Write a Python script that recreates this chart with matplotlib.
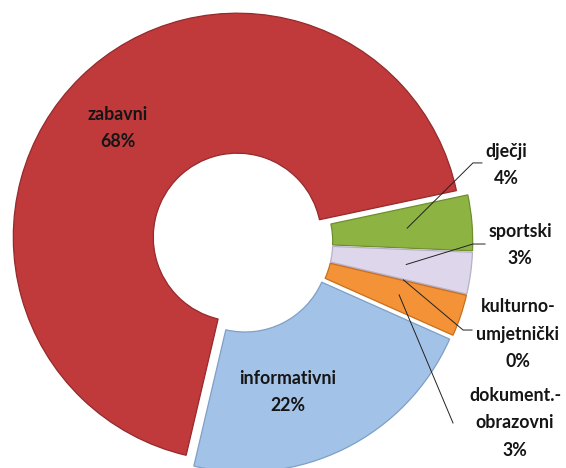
import matplotlib.pyplot as plt
import numpy as np

labels = ["dječji", "sportski", "kulturno-\numjetnički", "dokument.-\nobrazovni", "informativni", "zabavni"]
shares = [4, 3, 0, 3, 22, 68]
colors = ["#8DB443", "#DED6EA", "#E9E2F0", "#F39237", "#A3C2E8", "#C0393B"]
edges = ["#6E8E2E", "#B8AFC8", "#B8AFC8", "#C96F1E", "#7F9FC6", "#952A2C"]

plt.rcParams["font.family"] = ["Lato", "DejaVu Sans"]

fig = plt.figure(figsize=(5.66, 4.68), dpi=100)
ax = fig.add_axes([0, 0, 1, 1])

explode = [0.03] * len(shares)
wedges, _ = ax.pie(shares, colors=colors, startangle=12, counterclock=False,
                   explode=explode, radius=1.0,
                   wedgeprops=dict(width=0.625, linewidth=0.9))
for w, ec in zip(wedges, edges):
    w.set_edgecolor(ec)

ax.set_xlim(-242 / 224, (566 - 242) / 224)
ax.set_ylim(-226 / 224, 242 / 224)
ax.set_aspect("equal")
ax.axis("off")

txt = dict(ha="center", va="center", fontsize=12.8, fontweight="bold",
           linespacing=1.75, color="#151515")

# labels inside the two big slices
inner_pos = {4: (0.205, -0.67), 5: (-0.554, 0.51)}
for i, (x, y) in inner_pos.items():
    ax.text(x, y, f"{labels[i]}\n{shares[i]}%", **txt)

# outside labels with leader lines
outer_pos = {0: (1.179, 0.344), 1: (1.241, -0.013), 2: (1.232, -0.411), 3: (1.219, -0.808)}
line_start = {0: [(1.071, 0.353), (1.031, 0.353)],
              1: [(1.085, -0.009), (1.031, -0.009)],
              2: [(1.027, -0.393), (0.987, -0.393)],
              3: [(0.942, -0.808)]}
for i, (x, y) in outer_pos.items():
    ax.text(x, y, f"{labels[i]}\n{shares[i]}%", **txt)
    w = wedges[i]
    mid = np.deg2rad((w.theta1 + w.theta2) / 2)
    cx, cy = w.center
    tx, ty = cx + 0.71 * np.cos(mid), cy + 0.71 * np.sin(mid)
    pts = line_start[i] + [(tx, ty)]
    ax.plot([p[0] for p in pts], [p[1] for p in pts], color="#222222", lw=0.7)

fig.savefig("out.png", dpi=100)
